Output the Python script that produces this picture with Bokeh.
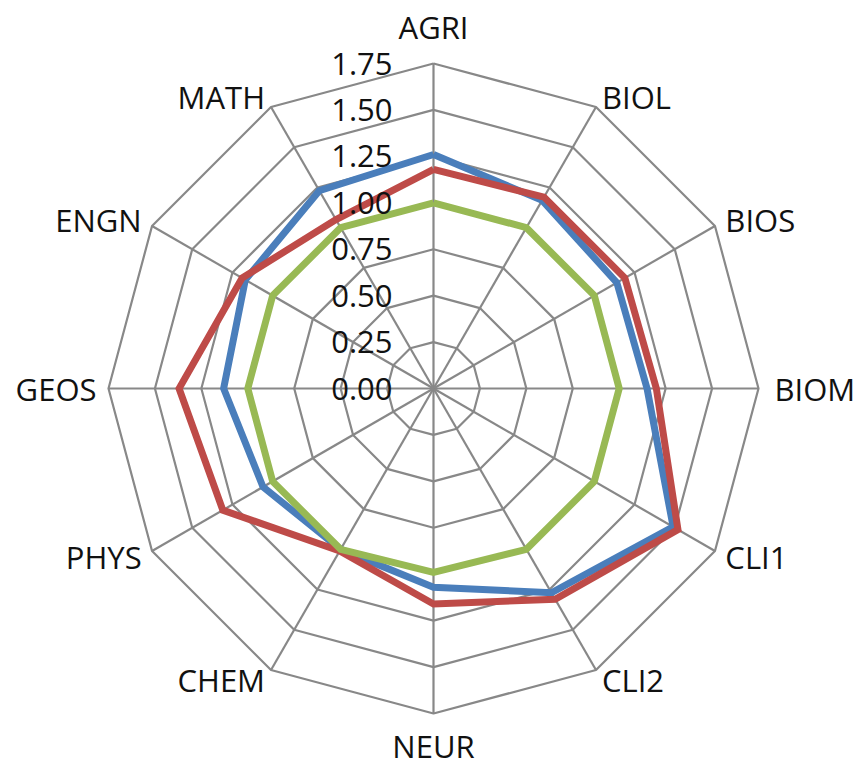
import numpy as np
from bokeh.plotting import figure
from bokeh.models import Range1d, ColumnDataSource
from bokeh.core.properties import value
from bokeh.embed import file_html
from bokeh.resources import INLINE

# ---- data ----
categories = ["AGRI", "BIOL", "BIOS", "BIOM", "CLI1", "CLI2",
              "NEUR", "CHEM", "PHYS", "GEOS", "ENGN", "MATH"]
series_blue = [1.26, 1.17, 1.14, 1.15, 1.49, 1.27, 1.07, 1.00, 1.06, 1.13, 1.17, 1.23]
series_red = [1.18, 1.19, 1.19, 1.20, 1.52, 1.31, 1.16, 1.01, 1.31, 1.37, 1.19, 1.05]
series_green = [1.00, 1.00, 1.00, 1.00, 1.00, 1.00, 0.99, 1.00, 1.00, 1.00, 1.00, 1.00]
tick_values = [0.00, 0.25, 0.50, 0.75, 1.00, 1.25, 1.50, 1.75]
tick_labels = ["0.00", "0.25", "0.50", "0.75", "1.00", "1.25", "1.50", "1.75"]

# ---- layout ----
W, H = 855, 765
cx_px, cy_px = 433, 388          # centre of the radar in plot pixels
R_px = 325.0                      # outer ring radius in pixels
rmax = tick_values[-1]
s = rmax / R_px                   # data units per pixel

n = len(categories)
ang = np.arange(n) * 2 * np.pi / n
sx, cy = np.sin(ang), np.cos(ang)

p = figure(width=W, height=H, output_backend="svg", toolbar_location=None,
           x_range=Range1d(-cx_px * s, (W - cx_px) * s),
           y_range=Range1d(-(H - cy_px) * s, cy_px * s),
           min_border=0)
p.axis.visible = False
p.grid.visible = False
p.outline_line_color = None
p.background_fill_color = "white"

grid_col = "#888888"
# rings
xs, ys = [], []
for t in tick_values[1:]:
    xs.append(list(np.append(t * sx, t * sx[0])))
    ys.append(list(np.append(t * cy, t * cy[0])))
# spokes
for i in range(n):
    xs.append([0, rmax * sx[i]])
    ys.append([0, rmax * cy[i]])
p.multi_line(xs, ys, line_color=grid_col, line_width=2.2)

colors = {"blue": "#4A7EBB", "red": "#BE4B48", "green": "#98B954"}
for name, vals in [("blue", series_blue), ("red", series_red), ("green", series_green)]:
    v = np.array(vals)
    x = np.append(v * sx, v[0] * sx[0])
    y = np.append(v * cy, v[0] * cy[0])
    p.line(x, y, line_color=colors[name], line_width=7, line_join="miter")

# tick labels
p.text(x=[-41 * s] * len(tick_values), y=tick_values, text=tick_labels,
       text_font=value("Open Sans"), text_font_size="31px", text_color="#111111",
       text_align="right", text_baseline="middle")

# category labels
lx, ly, la = [], [], []
for i in range(n):
    gap = 12.0
    if abs(sx[i]) < 0.1:
        gap = 37.0 if cy[i] > 0 else 32.0
        al = "center"
    elif sx[i] > 0:
        al = "left"
        if abs(cy[i]) < 0.1:
            gap = 16.0
    else:
        al = "right"
    r = (R_px + gap) * s
    lx.append(r * sx[i])
    ly.append(r * cy[i])
    la.append(al)
src = ColumnDataSource(dict(x=lx, y=ly, t=categories, a=la))
p.text(x="x", y="y", text="t", text_align="a", source=src,
       text_font=value("Open Sans"), text_font_size="31px", text_color="#111111",
       text_baseline="middle")

open("out.html", "w").write(file_html(p, INLINE))
